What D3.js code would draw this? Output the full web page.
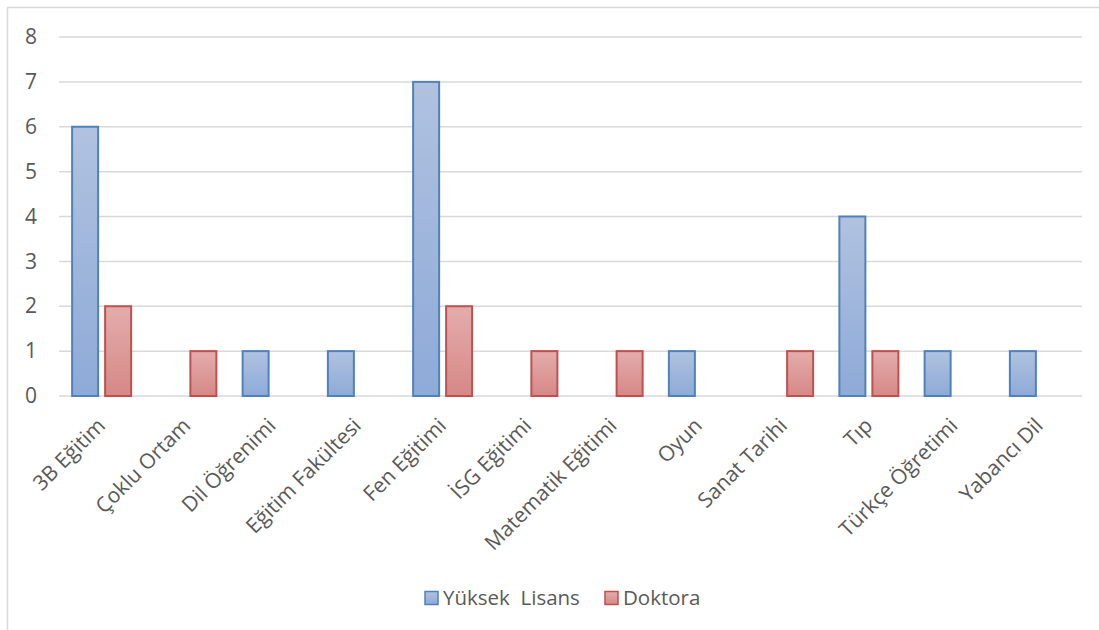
<!DOCTYPE html>
<html>
<head>
<meta charset="utf-8">
<script src="https://cdn.jsdelivr.net/npm/d3@7"></script>
<style>
  html, body { margin: 0; padding: 0; background: #fff; }
  svg { display: block; }
  text { font-family: "Open Sans", Carlito, Calibri, sans-serif; fill: #595959; }
</style>
</head>
<body>
<svg id="chart" width="1099" height="630"></svg>
<script>
// Thesis topics by degree type
const categories = ["3B Eğitim", "Çoklu Ortam", "Dil Öğrenimi", "Eğitim Fakültesi", "Fen Eğitimi",
  "İSG Eğitimi", "Matematik Eğitimi", "Oyun", "Sanat Tarihi", "Tıp", "Türkçe Öğretimi", "Yabancı Dil"];
const seriesNames = ["Yüksek  Lisans", "Doktora"];
const yuksekLisans = [6, 0, 1, 1, 7, 0, 0, 1, 0, 4, 1, 1];
const doktora = [2, 1, 0, 0, 2, 1, 1, 0, 1, 1, 0, 0];
const yTicks = [0, 1, 2, 3, 4, 5, 6, 7, 8];

const FONT = "'Open Sans', Carlito, Calibri, sans-serif";
const svg = d3.select("#chart");
const W = 1099, H = 630;
const plot = { left: 59, right: 1082, top: 37, bottom: 396 };

// Chart frame
svg.append("rect")
  .attr("x", 7.5).attr("y", 7.5)
  .attr("width", W + 10).attr("height", H + 10)
  .attr("fill", "none").attr("stroke", "#d9d9d9").attr("stroke-width", 1.5);

const defs = svg.append("defs");
function grad(id, top, bottom) {
  const g = defs.append("linearGradient").attr("id", id)
    .attr("x1", 0).attr("y1", 0).attr("x2", 0).attr("y2", 1);
  g.append("stop").attr("offset", "0%").attr("stop-color", top);
  g.append("stop").attr("offset", "100%").attr("stop-color", bottom);
}
grad("gBlue", "#b0c2df", "#8eaad8");
grad("gRed", "#e3adac", "#d68886");

const x = d3.scaleBand().domain(categories).range([plot.left, plot.right]).padding(0);
const y = d3.scaleLinear().domain([0, 8]).range([plot.bottom, plot.top]);

// Gridlines
svg.append("g").selectAll("line").data(yTicks).join("line")
  .attr("x1", plot.left).attr("x2", plot.right)
  .attr("y1", d => y(d)).attr("y2", d => y(d))
  .attr("stroke", "#d9d9d9").attr("stroke-width", 1.5);

// Y axis labels
const yAxis = d3.axisLeft(y).tickValues(yTicks).tickSize(0).tickPadding(0);
const yg = svg.append("g").attr("transform", `translate(31,0)`).call(yAxis);
yg.select(".domain").remove();
yg.selectAll("text").attr("font-size", 21).attr("fill", "#595959")
  .style("font-family", FONT)
  .attr("text-anchor", "middle").attr("dx", 0);

// Bars
const barW = 27;
const series = [
  { name: seriesNames[0], values: yuksekLisans, fill: "url(#gBlue)", stroke: "#4f81bd", off: -30 },
  { name: seriesNames[1], values: doktora, fill: "url(#gRed)", stroke: "#c0504d", off: 3 }
];
series.forEach(s => {
  svg.append("g").selectAll("rect")
    .data(categories.map((c, i) => ({ c, v: s.values[i] })).filter(d => d.v > 0))
    .join("rect")
    .attr("x", d => x(d.c) + x.bandwidth() / 2 + s.off + 0.5)
    .attr("y", d => y(d.v))
    .attr("width", barW - 1)
    .attr("height", d => y(0) - y(d.v))
    .attr("fill", s.fill)
    .attr("stroke", s.stroke).attr("stroke-width", 2);
});

// Category labels
const xAxis = d3.axisBottom(x).tickSize(0).tickPadding(0);
const xg = svg.append("g").attr("transform", `translate(0,${plot.bottom})`).call(xAxis);
xg.select(".domain").remove();
xg.selectAll("text")
  .attr("font-size", 21).attr("fill", "#595959")
  .style("font-family", FONT)
  .attr("text-anchor", "end")
  .attr("y", 0).attr("dy", 0)
  .attr("transform", "translate(5,31) rotate(-45)");

// Legend
const legend = svg.append("g").attr("transform", "translate(424,598)");
const items = [
  { name: seriesNames[0], fill: "url(#gBlue)", stroke: "#4f81bd", x: 0 },
  { name: seriesNames[1], fill: "url(#gRed)", stroke: "#c0504d", x: 180 }
];
items.forEach(it => {
  const g = legend.append("g").attr("transform", `translate(${it.x},0)`);
  g.append("rect").attr("x", 1).attr("y", -6.5).attr("width", 13).attr("height", 13)
    .attr("fill", it.fill).attr("stroke", it.stroke).attr("stroke-width", 1.5);
  g.append("text").attr("x", 19).attr("y", 0).attr("dy", "0.36em")
    .attr("font-size", 20.5).style("white-space", "pre").attr("xml:space", "preserve")
    .text(it.name);
});
</script>
</body>
</html>
